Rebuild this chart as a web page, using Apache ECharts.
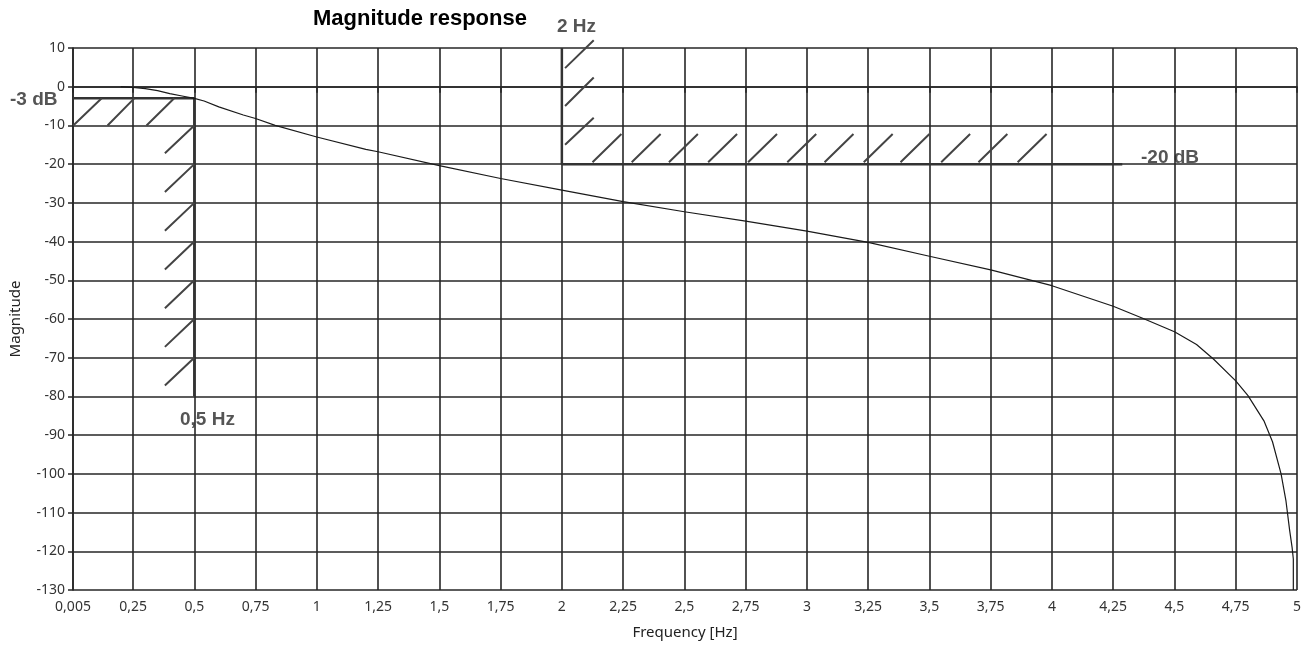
<!DOCTYPE html>
<html>
<head>
<meta charset="utf-8">
<script src="https://cdn.jsdelivr.net/npm/echarts@6/dist/echarts.min.js"></script>
<style>
html,body{margin:0;padding:0;background:#fff;}
#chart{width:1308px;height:645px;}
</style>
</head>
<body>
<div id="chart"></div>
<script>
// ---- data ----
const freq = [0.2,0.25,0.3,0.35,0.4,0.45,0.5,0.54,0.6,0.7,0.75,0.83,1.0,1.2,1.25,1.5,1.75,2.0,2.25,2.5,2.75,3.0,3.25,3.5,3.75,4.0,4.25,4.37,4.5,4.59,4.66,4.75,4.8,4.865,4.9,4.935,4.955,4.97,4.98,4.985,4.985];
const magnitude = [0,-0.2,-0.5,-1.0,-1.8,-2.4,-3.0,-3.7,-5.2,-7.3,-8.2,-10.0,-13.0,-16.2,-16.8,-20.4,-23.7,-26.7,-29.7,-32.3,-34.7,-37.3,-40.2,-43.8,-47.3,-51.4,-56.7,-59.8,-63.3,-66.6,-70.4,-76.0,-79.8,-86.3,-91.7,-100,-107,-114.6,-119,-122,-130];

const xTicks = [0.005,0.25,0.5,0.75,1,1.25,1.5,1.75,2,2.25,2.5,2.75,3,3.25,3.5,3.75,4,4.25,4.5,4.75,5];
const xTickLabels = ['0,005','0,25','0,5','0,75','1','1,25','1,5','1,75','2','2,25','2,5','2,75','3','3,25','3,5','3,75','4','4,25','4,5','4,75','5'];
const yMin = -130, yMax = 10, yStep = 10;

// specification limit lines
const passbandLimit = [[0.005,-3],[0.5,-3],[0.5,-80]];
const stopbandLimit = [[2,10],[2,-20],[4.287,-20]];

// hatch segments (data coordinates)
const hatches = [
  [[0.006,-10],[0.122,-3]], [[0.146,-10],[0.255,-3]], [[0.305,-10],[0.418,-3]],
  [[0.38,-17.2],[0.5,-10]], [[0.38,-27.2],[0.5,-20]], [[0.38,-37.2],[0.5,-30]],
  [[0.38,-47.2],[0.5,-40]], [[0.38,-57.2],[0.5,-50]], [[0.38,-67.2],[0.5,-60]],
  [[0.38,-77.2],[0.5,-70]],
  [[2.013,4.8],[2.13,12]], [[2.013,-5],[2.13,2.4]], [[2.013,-15],[2.13,-8]],
  [[2.125,-19.5],[2.243,-12.2]], [[2.285,-19.5],[2.403,-12.2]], [[2.437,-19.5],[2.555,-12.2]],
  [[2.597,-19.5],[2.715,-12.2]], [[2.76,-19.5],[2.878,-12.2]], [[2.92,-19.5],[3.038,-12.2]],
  [[3.072,-19.5],[3.19,-12.2]], [[3.232,-19.5],[3.35,-12.2]], [[3.382,-19.5],[3.50,-12.2]],
  [[3.548,-19.5],[3.666,-12.2]], [[3.70,-19.5],[3.818,-12.2]], [[3.86,-19.5],[3.978,-12.2]]
];

const curveData = freq.map((f, i) => [f, magnitude[i]]);
const hatchData = [];
hatches.forEach(s => { hatchData.push(s[0], s[1], ['-','-']); });

const chart = echarts.init(document.getElementById('chart'), null, {renderer:'canvas'});
const labelFont = 'Noto Sans';
const gridColor = '#262626';

chart.setOption({
  animation: false,
  backgroundColor: '#fff',
  title: {
    text: 'Magnitude response',
    left: 313, top: 8, padding: 0,
    textStyle: {fontFamily: 'Liberation Sans', fontWeight: 'bold', fontSize: 22, color: '#000'}
  },
  grid: {left: 72, right: 11, top: 48, bottom: 55, containLabel: false},
  xAxis: {
    type: 'value', min: 0.005, max: 5,
    name: 'Frequency [Hz]', nameLocation: 'middle', nameGap: 35,
    nameTextStyle: {fontFamily: labelFont, fontSize: 15, color: '#222'},
    axisLine: {show: true, lineStyle: {color: gridColor, width: 1.6}},
    axisTick: {show: true, length: 6, customValues: xTicks, lineStyle: {color: gridColor, width: 1.5}},
    axisLabel: {
      customValues: xTicks, margin: 10,
      fontFamily: labelFont, fontSize: 14, color: '#333',
      formatter: v => { const i = xTicks.findIndex(t => Math.abs(t - v) < 1e-9); return i >= 0 ? xTickLabels[i] : ''; }
    },
    splitLine: {show: true, lineStyle: {color: gridColor, width: 1.6}}
  },
  yAxis: {
    type: 'value', min: yMin, max: yMax, interval: yStep,
    name: 'Magnitude', nameLocation: 'middle', nameGap: 50, nameRotate: 90,
    nameTextStyle: {fontFamily: labelFont, fontSize: 15, color: '#222'},
    axisLine: {show: true, lineStyle: {color: gridColor, width: 1.6}},
    axisTick: {show: true, length: 5, lineStyle: {color: gridColor, width: 1.5}},
    axisLabel: {margin: 8, fontFamily: labelFont, fontSize: 14, color: '#333'},
    splitLine: {show: true, lineStyle: {color: gridColor, width: 1.6}}
  },
  series: [
    {
      type: 'line', data: curveData, showSymbol: false, symbol: 'none',
      lineStyle: {color: '#1a1a1a', width: 1.2}, z: 5
    },
    {
      type: 'line', data: passbandLimit, showSymbol: false, symbol: 'none',
      lineStyle: {color: '#333', width: 2.5}, z: 4
    },
    {
      type: 'line', data: stopbandLimit, showSymbol: false, symbol: 'none',
      lineStyle: {color: '#333', width: 2.5}, z: 4
    },
    {
      type: 'line', data: hatchData, showSymbol: false, symbol: 'none', connectNulls: false,
      clip: false, lineStyle: {color: '#444', width: 2}, z: 4
    }
  ],
  graphic: [
    {type: 'text', left: 10, top: 90, style: {text: '-3 dB', font: 'bold 19px "Liberation Sans"', fill: '#555'}},
    {type: 'text', left: 557, top: 17, style: {text: '2 Hz', font: 'bold 19px "Liberation Sans"', fill: '#555'}},
    {type: 'text', left: 1141, top: 148, style: {text: '-20 dB', font: 'bold 19px "Liberation Sans"', fill: '#555'}},
    {type: 'text', left: 180, top: 410, style: {text: '0,5 Hz', font: 'bold 19px "Liberation Sans"', fill: '#555'}}
  ]
});
</script>
</body>
</html>
